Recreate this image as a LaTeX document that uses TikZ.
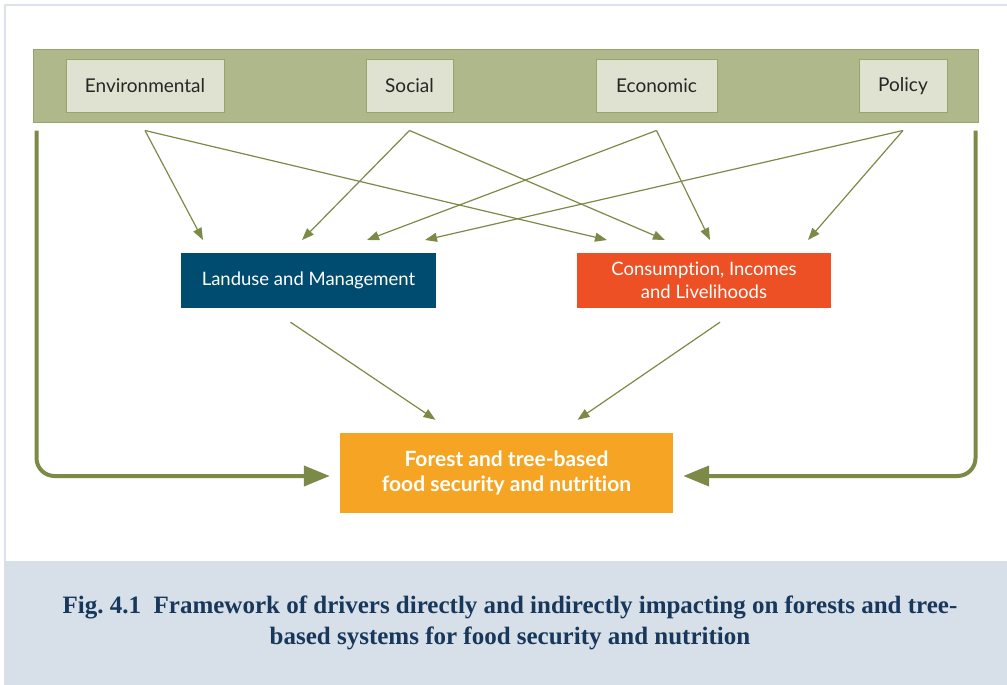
\documentclass[tikz,border=0pt]{standalone}
\usepackage{fontspec}
\setsansfont{Lato}[Ligatures=NoCommon]
\setmainfont{Liberation Serif}
\usetikzlibrary{arrows.meta,positioning}

\definecolor{bandgreen}{HTML}{AFB88A}
\definecolor{edgegreen}{HTML}{97A46A}
\definecolor{driverfill}{HTML}{DFE2D0}
\definecolor{arrowgreen}{HTML}{7C8A47}
\definecolor{landblue}{HTML}{004C70}
\definecolor{incomered}{HTML}{EE5025}
\definecolor{forestorange}{HTML}{F5A523}
\definecolor{capband}{HTML}{D7DFE8}
\definecolor{capblue}{HTML}{17385A}
\definecolor{framegray}{HTML}{DCE2EB}

\begin{document}
\begin{tikzpicture}[x=1pt,y=-1pt,font=\sffamily,
  driver/.style={draw=edgegreen,line width=1pt,fill=driverfill,minimum height=52pt,inner sep=0pt,
    text=black!85,font=\sffamily\fontsize{19}{22}\selectfont},
  outcome/.style={minimum height=55pt,inner sep=0pt,text=white,align=center,
    font=\sffamily\fontsize{18.5}{23}\selectfont},
  link/.style={draw=arrowgreen,line width=1.2pt,-{Triangle[length=12pt,width=9pt]}},
  sidelink/.style={draw=arrowgreen,line width=4pt,rounded corners=18pt,-{Triangle[length=26pt,width=20pt]}}]
	\useasboundingbox (0,0) rectangle (1007,685);

	%frame and caption band
	\draw[framegray,line width=2pt] (5,561) -- (5,5) -- (1007,5);
	\fill[capband] (4,561) rectangle (1007,685);
	\node[font=\rmfamily\bfseries\fontsize{25}{31}\selectfont,text=capblue,align=center] (caption) at (510,623)
	  {Fig.~4.1\hspace{0.5em}Framework of drivers directly and indirectly impacting on forests and tree-\\
	   based systems for food security and nutrition};

	%drivers
	\node[draw=edgegreen,line width=1pt,fill=bandgreen,minimum width=945pt,minimum height=72pt] (band) at (505.5,86) {};
	\node[driver,minimum width=158pt] (env) at (145,86) {Environmental};
	\node[driver,minimum width=87pt] (soc) at (409.5,86) {Social};
	\node[driver,minimum width=121pt] (eco) at (656.5,86) {Economic};
	\node[driver,minimum width=88pt] (pol) at (903,86) {Policy};

	%middle boxes
	\node[outcome,fill=landblue,minimum width=255pt] (land) at (308.5,280.5) {Landuse and Management};
	\node[outcome,fill=incomered,minimum width=254pt] (inc) at (704,280.5) {Consumption, Incomes\\and Livelihoods};

	%outcome
	\node[outcome,fill=forestorange,minimum width=333pt,minimum height=80pt,
	  font=\sffamily\bfseries\fontsize{21}{25}\selectfont] (food) at (506.5,473)
	  {Forest and tree-based\\food security and nutrition};

	%arrow ends
	\coordinate (land1) at (203,240);
	\coordinate (land2) at (302,240);
	\coordinate (land3) at (367,240);
	\coordinate (land4) at (425,240);
	\coordinate (inc1) at (607,240);
	\coordinate (inc2) at (665,240);
	\coordinate (inc3) at (710,240);
	\coordinate (inc4) at (808,240);

	%drivers to middle boxes
	\draw[link] ([yshift=-18pt]env.south) -- (land1);
	\draw[link] ([yshift=-18pt]env.south) -- (inc1);
	\draw[link] ([yshift=-18pt]soc.south) -- (land2);
	\draw[link] ([yshift=-18pt]soc.south) -- (inc2);
	\draw[link] ([yshift=-18pt]eco.south) -- (land3);
	\draw[link] ([yshift=-18pt]eco.south) -- (inc3);
	\draw[link] ([yshift=-18pt]pol.south) -- (land4);
	\draw[link] ([yshift=-18pt]pol.south) -- (inc4);

	%middle boxes to outcome
	\draw[link] ([xshift=-18pt,yshift=-14pt]land.south) -- ([xshift=-71pt,yshift=13pt]food.north);
	\draw[link] ([xshift=16pt,yshift=-14pt]inc.south) -- ([xshift=71pt,yshift=13pt]food.north);

	%direct links
	\draw[sidelink] ([xshift=4pt,yshift=-8pt]band.south west) |- ([xshift=-10pt,yshift=-3pt]food.west);
	\draw[sidelink] ([xshift=-3pt,yshift=-8pt]band.south east) |- ([xshift=10pt,yshift=-3pt]food.east);
\end{tikzpicture}
\end{document}
